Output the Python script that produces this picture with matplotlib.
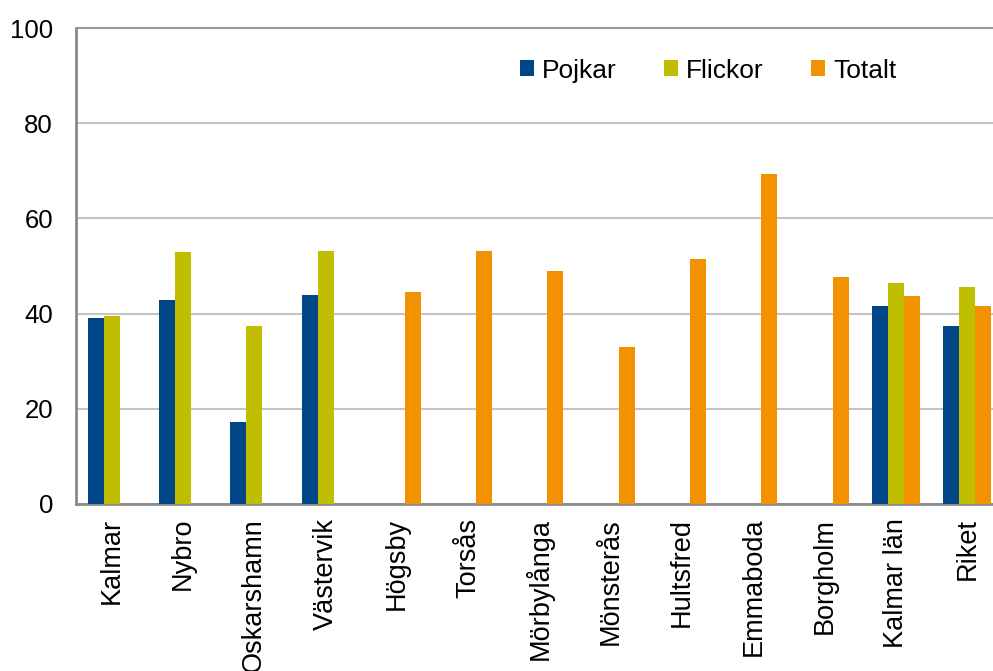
import numpy as np
import matplotlib
matplotlib.use("Agg")
import matplotlib.pyplot as plt

plt.rcParams['font.family'] = ['Liberation Sans', 'DejaVu Sans']

# Data
kommuner = ['Kalmar', 'Nybro', 'Oskarshamn', 'Västervik', 'Högsby', 'Torsås',
            'Mörbylånga', 'Mönsterås', 'Hultsfred', 'Emmaboda', 'Borgholm',
            'Kalmar län', 'Riket']
pojkar = [39.0, 42.8, 17.2, 43.9, np.nan, np.nan, np.nan, np.nan, np.nan,
          np.nan, np.nan, 41.5, 37.5]
flickor = [39.6, 53.0, 37.5, 53.2, np.nan, np.nan, np.nan, np.nan, np.nan,
           np.nan, np.nan, 46.4, 45.7]
totalt = [np.nan, np.nan, np.nan, np.nan, 44.6, 53.2, 49.0, 32.9, 51.4,
          69.4, 47.7, 43.8, 41.7]

farger = {'Pojkar': '#004586', 'Flickor': '#bfbe00', 'Totalt': '#f39200'}

fig = plt.figure(figsize=(9.93, 6.71), dpi=100)
# plot area runs a bit past the right edge of the image, as in the original
ax = fig.add_axes([0.0765, 0.249, 0.9335, 0.709])

x = np.arange(len(kommuner))
w = 0.224
for i, (namn, serie) in enumerate([('Pojkar', pojkar), ('Flickor', flickor), ('Totalt', totalt)]):
    ax.bar(x + (i - 1) * w, serie, width=w, color=farger[namn], label=namn, zorder=3)

ax.set_xlim(-0.5, len(kommuner) - 0.5)
ax.set_ylim(0, 100)
ax.set_yticks([0, 20, 40, 60, 80, 100])
ax.yaxis.grid(True, color='#c4c4c4', linewidth=1.5, zorder=0)
ax.set_axisbelow(True)

ax.set_xticks(x)
ax.set_xticklabels(kommuner, rotation=90, ha='center', va='top', fontsize=19.5)
ax.tick_params(axis='y', labelsize=18.5, length=0, pad=16.5)
ax.tick_params(axis='x', length=0, pad=10)

ax.spines['right'].set_visible(False)
ax.spines['top'].set_color('#9a9a9a')
ax.spines['top'].set_linewidth(1.5)
for s in ['left', 'bottom']:
    ax.spines[s].set_color('#8a8a8a')
    ax.spines[s].set_linewidth(2)

ax.legend(loc='center', bbox_to_anchor=(0.682, 0.911), ncol=3, frameon=False,
          fontsize=19, handlelength=0.53, handleheight=0.53, handletextpad=0.3,
          columnspacing=1.8)

fig.savefig('out.png', dpi=100)
